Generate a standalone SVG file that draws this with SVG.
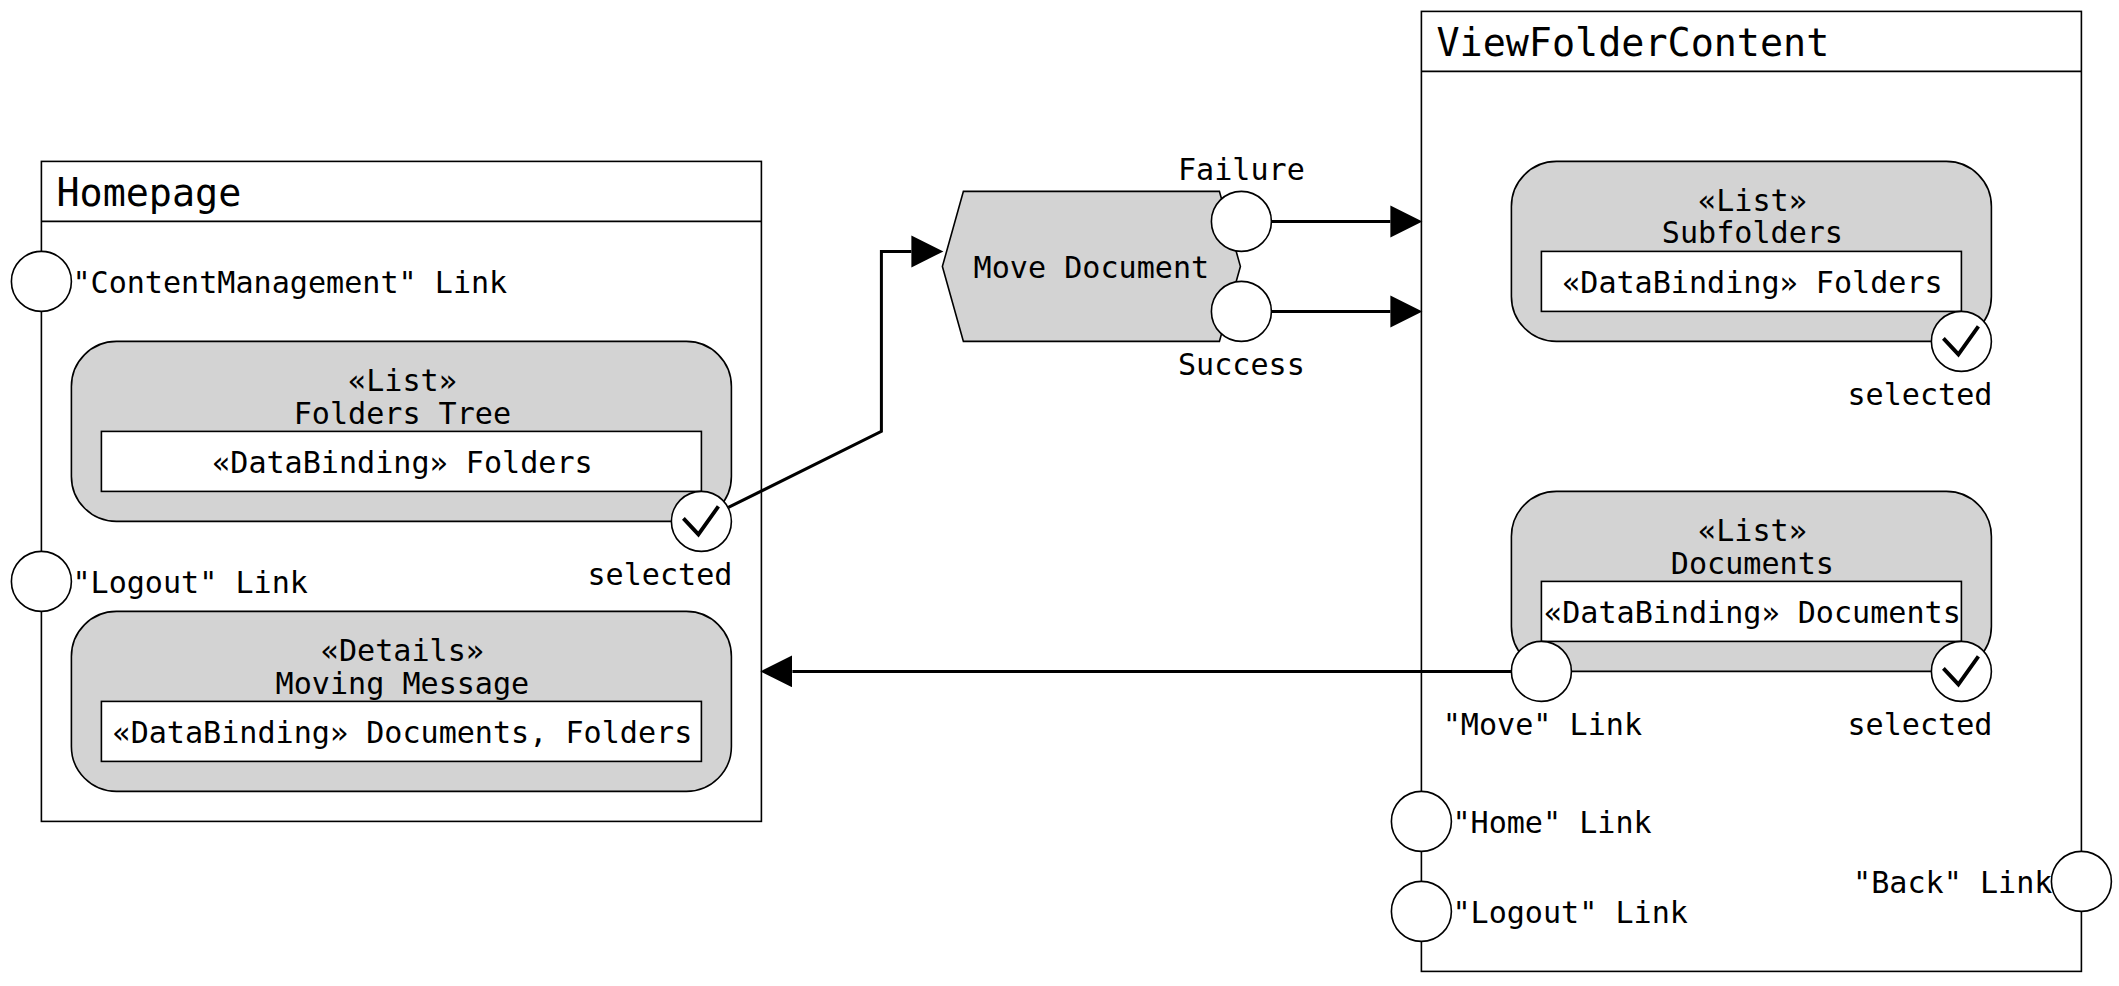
<svg xmlns="http://www.w3.org/2000/svg" width="2119" height="986" viewBox="0 0 2119 986">
<style>
text{font-family:"DejaVu Sans Mono","Liberation Mono",monospace;font-size:30.1px;fill:#000;transform:translate(1px,1px)}
.m{text-anchor:middle}.e{text-anchor:end}
.t{font-size:38.4px}
.f{fill:#fff;stroke:#000;stroke-width:1.6}
.g{fill:#d3d3d3;stroke:#000;stroke-width:1.6}
.c{fill:none;stroke:#000;stroke-width:3}
.k{fill:none;stroke:#000;stroke-width:3.8}
</style>
<defs>
<marker id="a" markerUnits="userSpaceOnUse" markerWidth="34" markerHeight="34" refX="0" refY="16" orient="auto"><path d="M0 0L32 16L0 32Z" fill="#000"/></marker>
<path id="ck" class="k" d="M-18 -3L-3 13L17 -15"/>
</defs>
<g id="diagram" transform="translate(-0.6 -0.6)">
<g id="homepage">
<rect class="f" x="42" y="162" width="720" height="660"/>
<path class="f" d="M42 222H762"/>
<text class="t" x="56" y="206">Homepage</text>
</g>
<g id="viewfoldercontent">
<rect class="f" x="1422" y="12" width="660" height="960"/>
<path class="f" d="M1422 72H2082"/>
<text class="t" x="1436" y="56">ViewFolderContent</text>
</g>
<g id="connectors">
<path class="c" d="M729 508L882 432V252H912" marker-end="url(#a)"/>
<path class="c" d="M1272 222H1391" marker-end="url(#a)"/>
<path class="c" d="M1272 312H1391" marker-end="url(#a)"/>
<path class="c" d="M1512 672H793" marker-end="url(#a)"/>
</g>
<g id="content-management-link">
<circle class="f" cx="42" cy="282" r="30"/>
<text x="72" y="293">"ContentManagement" Link</text>
</g>
<g id="folders-tree">
<rect class="g" x="72" y="342" width="660" height="180" rx="45"/>
<text class="m" x="402" y="391">«List»</text>
<text class="m" x="402" y="424">Folders Tree</text>
<rect class="f" x="102" y="432" width="600" height="60"/>
<text class="m" x="402" y="473">«DataBinding» Folders</text>
<circle class="f" cx="702" cy="522" r="30"/>
<use href="#ck" x="702" y="522"/>
<text class="e" x="732" y="585">selected</text>
</g>
<g id="home-logout-link">
<circle class="f" cx="42" cy="582" r="30"/>
<text x="72" y="593">"Logout" Link</text>
</g>
<g id="moving-message">
<rect class="g" x="72" y="612" width="660" height="180" rx="45"/>
<text class="m" x="402" y="661">«Details»</text>
<text class="m" x="402" y="694">Moving Message</text>
<rect class="f" x="102" y="702" width="600" height="60"/>
<text class="m" x="402" y="743">«DataBinding» Documents, Folders</text>
</g>
<g id="move-document">
<path class="g" d="M943 267L964 192H1220L1241 267L1220 342H964Z"/>
<text class="m" x="1091" y="278">Move Document</text>
<circle class="f" cx="1242" cy="222" r="30"/>
<circle class="f" cx="1242" cy="312" r="30"/>
<text class="m" x="1241" y="180">Failure</text>
<text class="m" x="1241" y="375">Success</text>
</g>
<g id="subfolders">
<rect class="g" x="1512" y="162" width="480" height="180" rx="45"/>
<text class="m" x="1752" y="211">«List»</text>
<text class="m" x="1752" y="243">Subfolders</text>
<rect class="f" x="1542" y="252" width="420" height="60"/>
<text class="m" x="1752" y="293">«DataBinding» Folders</text>
<circle class="f" cx="1962" cy="342" r="30"/>
<use href="#ck" x="1962" y="342"/>
<text class="e" x="1992" y="405">selected</text>
</g>
<g id="documents">
<rect class="g" x="1512" y="492" width="480" height="180" rx="45"/>
<text class="m" x="1752" y="541">«List»</text>
<text class="m" x="1752" y="574">Documents</text>
<rect class="f" x="1542" y="582" width="420" height="60"/>
<text class="m" x="1752" y="623">«DataBinding» Documents</text>
<circle class="f" cx="1542" cy="672" r="30"/>
<text class="m" x="1542" y="735">"Move" Link</text>
<circle class="f" cx="1962" cy="672" r="30"/>
<use href="#ck" x="1962" y="672"/>
<text class="e" x="1992" y="735">selected</text>
</g>
<g id="view-home-link">
<circle class="f" cx="1422" cy="822" r="30"/>
<text x="1452" y="833">"Home" Link</text>
</g>
<g id="view-logout-link">
<circle class="f" cx="1422" cy="912" r="30"/>
<text x="1452" y="923">"Logout" Link</text>
</g>
<g id="back-link">
<circle class="f" cx="2082" cy="882" r="30"/>
<text class="e" x="2052" y="893">"Back" Link</text>
</g>
</g>
</svg>
